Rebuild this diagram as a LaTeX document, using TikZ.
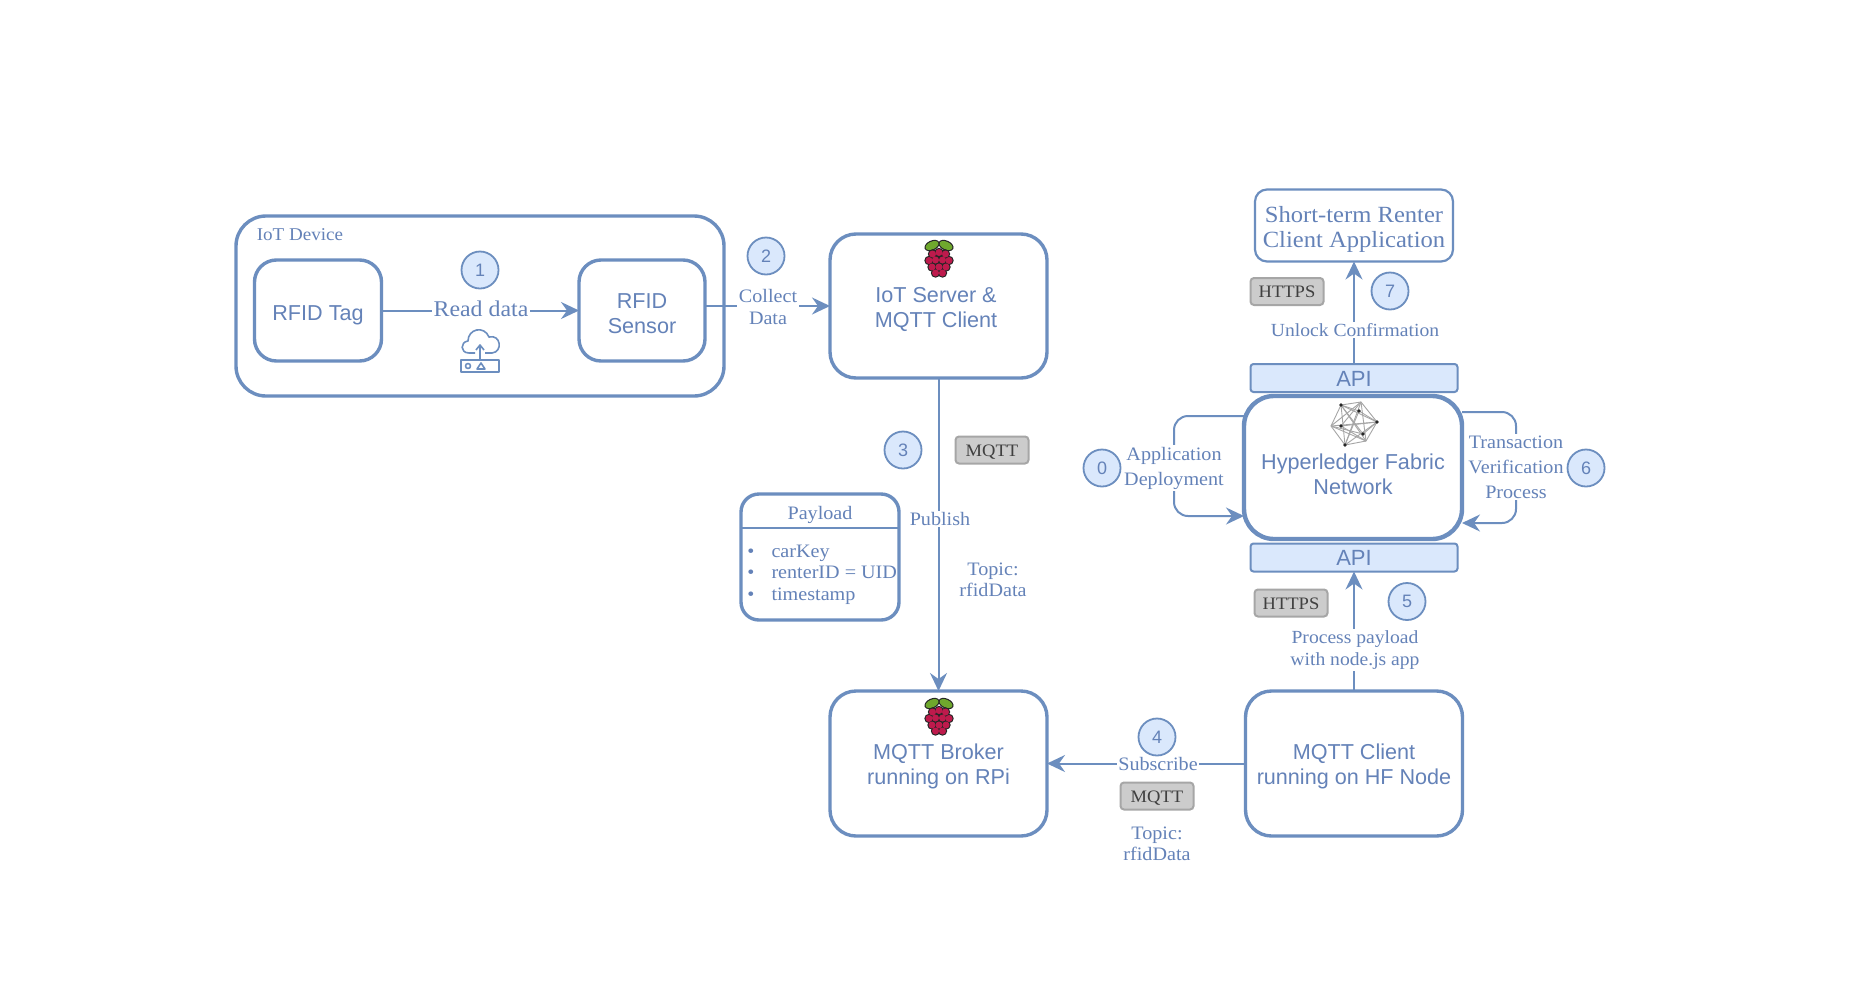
\documentclass[tikz,border=0pt]{standalone}
\usepackage{fontspec}
\setmainfont{Liberation Serif}[FakeStretch=1.06]
\newfontfamily\sansf{Liberation Sans}
\usetikzlibrary{arrows.meta}
\definecolor{ln}{HTML}{6C8EBF}
\definecolor{tx}{HTML}{6482B8}
\definecolor{lightb}{HTML}{DAE8FC}
\definecolor{leaf}{HTML}{6FA82D}
\definecolor{berry}{HTML}{BE1A4C}
\newcommand{\bt}[2]{\raisebox{#1pt}[0pt][0pt]{\begin{tabular}{@{}c@{}}#2\end{tabular}}}
\tikzset{
  x=1pt,y=-1pt,
  every node/.style={inner sep=0pt,outer sep=0pt,text=tx},
  box/.style={draw=ln,line width=3.4pt,rounded corners=22pt,fill=white,font=\fontsize{21.6}{25}\selectfont\sansf},
  hfbox/.style={box,line width=4.4pt,rounded corners=30pt},
  thinbox/.style={draw=ln,line width=2.2pt,rounded corners=12pt,fill=white,font=\fontsize{23.2}{25}\selectfont},
  apibox/.style={draw=ln,line width=2pt,rounded corners=3pt,fill=lightb,minimum width=207pt,minimum height=28pt,font=\fontsize{22}{24}\selectfont\sansf},
  num/.style={circle,draw=ln,line width=1.8pt,fill=lightb,minimum size=37pt,font=\fontsize{18}{20}\selectfont\sansf},
  tag/.style={draw=black!35,line width=2pt,rounded corners=3.5pt,fill=black!20,text=black!75,minimum width=73pt,minimum height=27pt,text height=12pt,text depth=0pt,font=\fontsize{17.5}{20}\selectfont},
  lab/.style={fill=white,align=center,inner sep=1.5pt,font=\fontsize{19}{21.5}\selectfont},
  edge/.style={draw=ln,line width=2pt,-{Stealth[length=18pt,width=17pt,inset=6pt]}},
  raspi/.pic={
    \fill[black!85] (-7,-13.5) ellipse[x radius=8,y radius=5,rotate=25];
    \fill[black!85] (7,-13.5) ellipse[x radius=8,y radius=5,rotate=-25];
    \fill[leaf] (-7,-13.5) ellipse[x radius=6.8,y radius=3.8,rotate=25];
    \fill[leaf] (7,-13.5) ellipse[x radius=6.8,y radius=3.8,rotate=-25];
    \foreach \p/\q in {-6.5/-5,0/-6.5,6.5/-5,-10/1.5,-3.5/1,3.5/1,10/1.5,-7/8,0/8,7/8,-3.5/14,3.5/14}
      \fill[black!85] (\p,\q) circle[radius=4.7];
    \foreach \p/\q in {-6.5/-5,0/-6.5,6.5/-5,-10/1.5,-3.5/1,3.5/1,10/1.5,-7/8,0/8,7/8,-3.5/14,3.5/14}
      \fill[berry] (\p,\q) circle[radius=3.5];
  },
}
\begin{document}
\begin{tikzpicture}
\useasboundingbox[fill=white] (0,0) rectangle (1859,991);

% boxes
\node[box,rounded corners=30pt,minimum width=488pt,minimum height=180pt] (iot) at (480,306) {};
\node[box,minimum width=127pt,minimum height=101pt] (tagn) at (318,310.5) {\bt{-10.5}{RFID Tag}};
\node[box,minimum width=126pt,minimum height=101pt] (sensor) at (642,310.5) {\bt{-10.5}{RFID\\Sensor}};
\node[box,rounded corners=26pt,minimum width=217pt,minimum height=144pt] (server) at (938.5,306) {\kern-5pt\bt{-9.5}{IoT Server \&\\MQTT Client}};
\node[box,rounded corners=26pt,minimum width=217pt,minimum height=145pt] (broker) at (938.5,763.5) {\bt{-8.5}{MQTT Broker\\running on RPi}};
\node[box,rounded corners=26pt,minimum width=217pt,minimum height=145pt] (client) at (1354,763.5) {\bt{-8.5}{MQTT Client\\running on HF Node}};
\node[hfbox,minimum width=218pt,minimum height=143pt] (hf) at (1353,467.5) {\bt{-15}{Hyperledger Fabric\\Network}};
\node[apibox] (apit) at (1354,378) {\bt{-8.5}{API}};
\node[apibox] (apib) at (1354,557.5) {\bt{-8}{API}};
\node[thinbox,minimum width=198pt,minimum height=72pt] (short) at (1354,225.5) {\bt{-11}{Short-term Renter\\Client Application}};
\node[box,rounded corners=18pt,minimum width=158pt,minimum height=126pt] (pay) at (820,557) {};

% payload contents
\coordinate (sep) at (820,528);
\draw[draw=ln,line width=1.6pt] (pay.west |- sep) -- (pay.east |- sep);
\node[lab,fill=none] (paytitle) at (820,515) {Payload};
\node[lab,fill=none,anchor=base west] (b1) at (770,557) {carKey};
\node[lab,fill=none,anchor=base west] (b2) at (770,578.5) {renterID = UID};
\node[lab,fill=none,anchor=base west] (b3) at (770,600) {timestamp};
\node[lab,fill=none,anchor=base] (d1) at (751,557) {•};
\node[lab,fill=none,anchor=base] (d2) at (751,578.5) {•};
\node[lab,fill=none,anchor=base] (d3) at (751,600) {•};

% connectors
\draw[edge] (tagn.east) -- (sensor.west);
\draw[edge] (sensor.east |- server.west) -- (server.west);
\draw[edge] (server.south) -- (broker.north);
\draw[edge] (client.west) -- (broker.east);
\draw[edge] (client.north -| apib.south) -- (apib.south);
\draw[edge] (apit.north) -- (short.south);
\coordinate (l0) at (1174,416);
\coordinate (l1) at (1174,516);
\coordinate (r0) at (1516,412);
\coordinate (r1) at (1516,523);
\draw[edge,rounded corners=14pt] (hf.west |- l0) -- (l0) -- (l1) -- (hf.west |- l1);
\draw[edge,rounded corners=14pt] (hf.east |- r0) -- (r0) -- (r1) -- (hf.east |- r1);

% connector labels
\node[lab,font=\fontsize{22.5}{25}\selectfont] (readl) at (481,309) {Read data};
\node[lab] (coll) at (768,307) {Collect\\Data};
\node[lab] (publ) at (940,519) {Publish};
\node[lab] (subl) at (1158,764) {Subscribe};
\node[lab,font=\fontsize{18.5}{21}\selectfont] (unl) at (1355,330) {Unlock Confirmation};
\node[lab,font=\fontsize{18.5}{21.5}\selectfont] (procl) at (1355,650) {Process payload\\with node.js app};
\node[lab,font=\fontsize{19}{25}\selectfont] (appl) at (1174,468) {Application\\Deployment};
\node[lab,font=\fontsize{19}{25}\selectfont] (trl) at (1516,467) {Transaction\\Verification\\Process};
\node[lab] (top1) at (993,580) {Topic:\\rfidData};
\node[lab] (top2) at (1157,844) {Topic:\\rfidData};
\node[lab,fill=none,font=\fontsize{18}{20}\selectfont] (iotl) at (300,235) {IoT Device};

% number circles
\node[num] (n0) at (1102,468) {\raisebox{-1pt}{0}};
\node[num] (n1) at (480,270) {\raisebox{-1pt}{1}};
\node[num] (n2) at (766,256) {\raisebox{-1pt}{2}};
\node[num] (n3) at (903,450) {\raisebox{-1pt}{3}};
\node[num] (n4) at (1157,737) {\raisebox{-1pt}{4}};
\node[num] (n5) at (1407,601.5) {\raisebox{-1pt}{5}};
\node[num] (n6) at (1586,468) {\raisebox{-1pt}{6}};
\node[num] (n7) at (1390,291) {\raisebox{-1pt}{7}};

% protocol tags
\node[tag] (t1) at (992,450) {MQTT};
\node[tag] (t2) at (1157,796) {MQTT};
\node[tag] (t3) at (1287,291.5) {HTTPS};
\node[tag] (t4) at (1291,603) {HTTPS};

% icons
\pic at (939,259) {raspi};
\pic at (939,717) {raspi};

\begin{scope}[draw=ln,line width=1.6pt,line join=round]
\draw (475,353) -- (469,353) .. controls (460,353) and (460,342) .. (468,341) .. controls (468,329) and (484,325) .. (489,337) .. controls (501,334) and (503,352) .. (492,353) -- (485,353);
\draw (461,360) rectangle (499,372);
\draw (480,360) -- (480,346);
\draw (476,350) -- (480,345) -- (484,350);
\draw (468,366) circle[radius=2.5];
\draw (477,369) -- (481,363) -- (485,369) -- cycle;
\end{scope}

\begin{scope}[shift={(1354,424)}]
\foreach \a/\ax/\ay in {a/-13/-19,b/7/-22,c/23/-2,d/12/17,e/-9/21,f/-23/2,g/5/-13,h/-13/2,i/9/10}
  \coordinate (h\a) at (\ax,\ay);
\foreach \u/\v in {a/b,b/c,c/d,d/e,e/f,f/a,a/c,a/d,a/e,b/d,b/e,b/f,c/e,c/f,d/f,g/a,g/c,g/e,h/b,h/d,h/c,i/a,i/f,i/c}
  \draw[black!35,line width=.9pt] (h\u) -- (h\v);
\foreach \a in {a,c,e,g,h,i}
  \fill[black!85] (h\a) circle[radius=1.8];
\end{scope}
\end{tikzpicture}
\end{document}
